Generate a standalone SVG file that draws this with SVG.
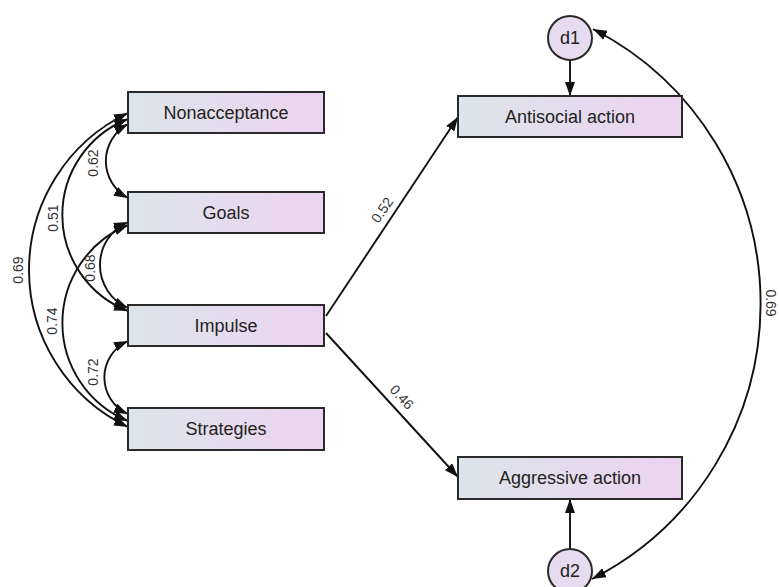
<svg xmlns="http://www.w3.org/2000/svg" width="779" height="587" viewBox="0 0 779 587">
<style>
.box{stroke:#2a2a2a;stroke-width:2;fill:url(#g)}
.circ{stroke:#2a2a2a;stroke-width:2;fill:#e7dcef}
.t{font-family:"Liberation Sans",Arial,sans-serif;font-size:18px;fill:#222;text-anchor:middle;dominant-baseline:central}
.lab{font-family:"Liberation Sans",Arial,sans-serif;font-size:14px;fill:#333;text-anchor:middle;dominant-baseline:central}
.c{fill:none;stroke:#111;stroke-width:1.9}
.one{marker-end:url(#ah)}
.two{marker-start:url(#ah);marker-end:url(#ah)}
</style>
<defs>
<linearGradient id="g" x1="0" y1="0" x2="1" y2="0">
<stop offset="0" stop-color="#dde5e9"/>
<stop offset="1" stop-color="#ecd3f1"/>
</linearGradient>
<marker id="ah" viewBox="0 0 14 10" refX="14" refY="5" markerUnits="userSpaceOnUse" markerWidth="14" markerHeight="10" orient="auto-start-reverse">
<path d="M0,0 L14,5 L0,10 z" fill="#111"/>
</marker>
</defs>
<g id="connectors">
<path class="c two" d="M128,124 A42 42 0 0 0 128,198"/>
<path class="c two" d="M128,119 A103 103 0 0 0 128,311"/>
<path class="c two" d="M128,113 A174 174 0 0 0 128,427"/>
<path class="c two" d="M128,222 A47 47 0 0 0 128,308"/>
<path class="c two" d="M128,225 A106 106 0 0 0 128,421"/>
<path class="c two" d="M128,341 A40 40 0 0 0 128,414"/>
<path class="c one" d="M326,316 L458,117"/>
<path class="c one" d="M326,333 L458,477"/>
<path class="c one" d="M570,60 L570,96"/>
<path class="c one" d="M570,550 L570,499"/>
<path class="c two" d="M593,29 A309 309 0 0 1 592,579"/>
<text class="lab" transform="translate(18,270) rotate(-90)">0.69</text>
<text class="lab" transform="translate(53,218) rotate(-90)">0.51</text>
<text class="lab" transform="translate(52,321) rotate(-90)">0.74</text>
<text class="lab" transform="translate(93,163) rotate(-90)">0.62</text>
<text class="lab" transform="translate(90,268) rotate(-90)">0.68</text>
<text class="lab" transform="translate(93,372) rotate(-90)">0.72</text>
<text class="lab" transform="translate(382,210) rotate(-56)">0.52</text>
<text class="lab" transform="translate(402,397) rotate(47.5)">0.46</text>
<text class="lab" transform="translate(771,303) rotate(90)">0.69</text>
</g>
<g id="nonacceptance"><rect class="box" x="128" y="92" width="196" height="41"/><text class="t" x="226" y="112.5">Nonacceptance</text></g>
<g id="goals"><rect class="box" x="128" y="192" width="196" height="41"/><text class="t" x="226" y="212.5">Goals</text></g>
<g id="impulse"><rect class="box" x="128" y="305" width="196" height="41"/><text class="t" x="226" y="325.5">Impulse</text></g>
<g id="strategies"><rect class="box" x="128" y="408" width="196" height="42"/><text class="t" x="226" y="429">Strategies</text></g>
<g id="antisocial"><rect class="box" x="458" y="96" width="224" height="41"/><text class="t" x="570" y="116.5">Antisocial action</text></g>
<g id="aggressive"><rect class="box" x="458" y="457" width="224" height="42"/><text class="t" x="570" y="478">Aggressive action</text></g>
<g id="d1"><circle class="circ" cx="570" cy="38" r="22"/><text class="t" x="570" y="38">d1</text></g>
<g id="d2"><circle class="circ" cx="570" cy="571" r="22"/><text class="t" x="570" y="571">d2</text></g>
</svg>
